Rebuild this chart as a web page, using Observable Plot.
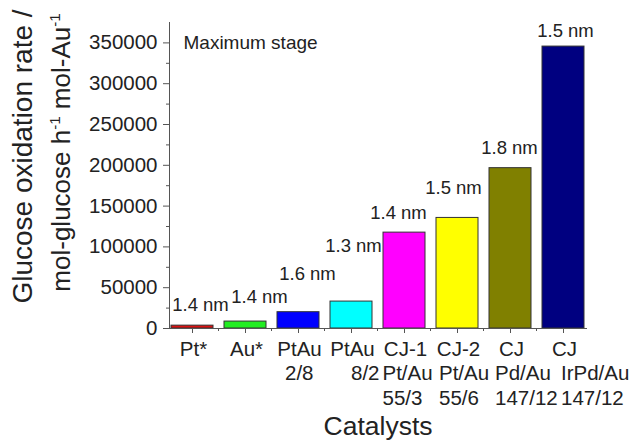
<!DOCTYPE html>
<html>
<head>
<meta charset="utf-8">
<script src="https://cdn.jsdelivr.net/npm/d3@7"></script>
<script src="https://cdn.jsdelivr.net/npm/@observablehq/plot@0.6"></script>
<style>
  body { margin: 0; background: #fff; }
  #chart svg { display: block; }
</style>
</head>
<body>
<div id="chart"></div>
<script>
// Categories (keys) and their multi-line tick labels
const catalysts = ["Pt*", "Au*", "PtAu 2/8", "PtAu 8/2", "CJ-1 Pt/Au 55/3", "CJ-2 Pt/Au 55/6", "CJ Pd/Au 147/12", "CJ IrPd/Au 147/12"];
const tickLines = [["Pt*"], ["Au*"], ["PtAu", "2/8"], ["PtAu", "8/2"], ["CJ-1", "Pt/Au", "55/3"], ["CJ-2", "Pt/Au", "55/6"], ["CJ", "Pd/Au", "147/12"], ["CJ", "IrPd/Au", "147/12"]];
// Glucose oxidation rate (mol-glucose h^-1 mol-Au^-1), maximum stage
const rates = [3500, 8500, 20000, 33000, 117500, 135500, 196500, 345500];
// Particle size annotations
const sizes = ["1.4 nm", "1.4 nm", "1.6 nm", "1.3 nm", "1.4 nm", "1.5 nm", "1.8 nm", "1.5 nm"];
// Annotation anchor (in rate units)
const labelRate = [28200, 37900, 67300, 101600, 142000, 172600, 221500, 364700];
const barColors = ["#dd1111", "#22ee22", "#0000ff", "#00ffff", "#ff00ff", "#ffff00", "#808000", "#000080"];
const majorTicks = [0, 50000, 100000, 150000, 200000, 250000, 300000, 350000];
const minorTicks = [25000, 75000, 125000, 175000, 225000, 275000, 325000];
// Axis titles (line 2 parts: [text, isSuperscript])
const yTitle1 = "Glucose oxidation rate /";
const yTitle2 = [["mol-glucose h", false], ["-1", true], [" mol-Au", false], ["-1", true]];
const xTitle = "Catalysts";
const note = "Maximum stage";

// layout nudges (px)
const labelShift = [8, 14, 9, 2, -6, -4, -1, 2];
const subLineStart = [0, 0, -13.5, -0.5, -22, -18.5, -15.5, -2.5];

const data = catalysts.map((c, i) => ({cat: c, rate: rates[i], size: sizes[i], ly: labelRate[i]}));
const lineRecs = [];
tickLines.forEach((lines, i) => lines.forEach((t, j) => lineRecs.push({cat: catalysts[i], i, j, text: t})));

const font = "'Liberation Sans', Arial, sans-serif";
const ink = "#222";
const tickFont = 20.5;
const lineDy = [20.5, 45, 69.5];
const title2Size = 26;

const chart = Plot.plot({
  width: 639,
  height: 444,
  marginLeft: 169,
  marginRight: 53,
  marginTop: 22,
  marginBottom: 116,
  style: {fontFamily: font, color: ink, background: "#fff"},
  x: {domain: catalysts, paddingInner: 0.2, paddingOuter: 0, axis: null},
  y: {domain: [0, 375000], axis: null},
  color: {domain: catalysts, range: barColors},
  marks: [
    Plot.barY(data, {x: "cat", y: "rate", fill: "cat", stroke: "#333", strokeWidth: 1}),
    Plot.frame({anchor: "left", stroke: "#555"}),
    Plot.frame({anchor: "bottom", stroke: "#555"}),
    Plot.axisY(majorTicks, {tickSize: 6, tickPadding: 6, fontSize: tickFont, stroke: "#555", fill: ink, tickFormat: d => String(d), label: null}),
    Plot.axisY(minorTicks, {tickSize: 3, stroke: "#555", tickFormat: () => "", label: null}),
    Plot.axisX(catalysts, {tickSize: 5, stroke: "#555", tickFormat: () => "", label: null}),
    ...[0, 1, 2].map(j => Plot.text(lineRecs.filter(r => r.j === j), {
      x: "cat", frameAnchor: "bottom", text: "text", dy: lineDy[j], lineAnchor: "middle",
      fontSize: tickFont, fill: ink, ariaDescription: "tickline" + j
    })),
    Plot.text(data, {x: "cat", y: "ly", text: "size", fontSize: 18.5, fill: ink, lineAnchor: "middle", ariaDescription: "sizelabel"}),
    Plot.text([note], {frameAnchor: "top-left", textAnchor: "start", lineAnchor: "middle", dx: 14, dy: 20, fontSize: 19, fill: ink}),
    Plot.text([xTitle], {frameAnchor: "bottom", lineAnchor: "middle", dy: 98, fontSize: 26.5, fill: ink}),
    Plot.text([yTitle1], {frameAnchor: "left", textAnchor: "middle", rotate: -90, lineAnchor: "middle", dx: -146, dy: -19, fontSize: 28, fill: ink}),
    Plot.text([yTitle2.map(p => p[0]).join("")], {frameAnchor: "left", textAnchor: "middle", rotate: -90, lineAnchor: "middle", dx: -108, dy: -23, fontSize: title2Size, fill: ink, ariaDescription: "ytitle2"})
  ]
});
document.getElementById("chart").appendChild(chart);

// apply per-item horizontal nudges
function nudge(el, s) {
  const t = el.getAttribute("transform") || "";
  el.setAttribute("transform", (t + ` translate(${s},0)`).trim());
}
const textGroups = Array.from(chart.querySelectorAll("g[aria-label='text']"));
function texts(name, idx) {
  let g = chart.querySelector(`g[aria-description='${name}']`);
  if (!g) g = textGroups[idx];
  return g ? Array.from(g.querySelectorAll("text")) : [];
}
texts("tickline0", 0).forEach(el => nudge(el, 1));
[1, 2].forEach(j => {
  const recs = lineRecs.filter(r => r.j === j);
  texts("tickline" + j, j).forEach((el, k) => {
    el.setAttribute("text-anchor", "start");
    nudge(el, subLineStart[recs[k].i]);
  });
});
texts("sizelabel", 3).forEach((el, k) => nudge(el, labelShift[k]));

// superscripts in the second y-title line
texts("ytitle2", 7).forEach(el => {
  el.textContent = "";
  const ns = "http://www.w3.org/2000/svg";
  let raised = false;
  yTitle2.forEach(([t, sup]) => {
    const ts = document.createElementNS(ns, "tspan");
    ts.textContent = t;
    if (sup && !raised) { ts.setAttribute("dy", -10); ts.setAttribute("font-size", title2Size * 0.58); raised = true; }
    else if (sup) { ts.setAttribute("font-size", title2Size * 0.58); }
    else if (raised) { ts.setAttribute("dy", 10); raised = false; }
    el.appendChild(ts);
  });
});

// small minor ticks on the x axis between categories, from Plot's own x scale
const xs = chart.scale("x");
const yBase = chart.scale("y").apply(0);
const gMinor = d3.select(chart).append("g").attr("stroke", "#555");
catalysts.slice(0, -1).forEach(c => {
  const xm = xs.apply(c) + xs.bandwidth + (xs.step - xs.bandwidth) / 2;
  gMinor.append("line").attr("x1", xm).attr("x2", xm).attr("y1", yBase).attr("y2", yBase + 3);
});
</script>
</body>
</html>
